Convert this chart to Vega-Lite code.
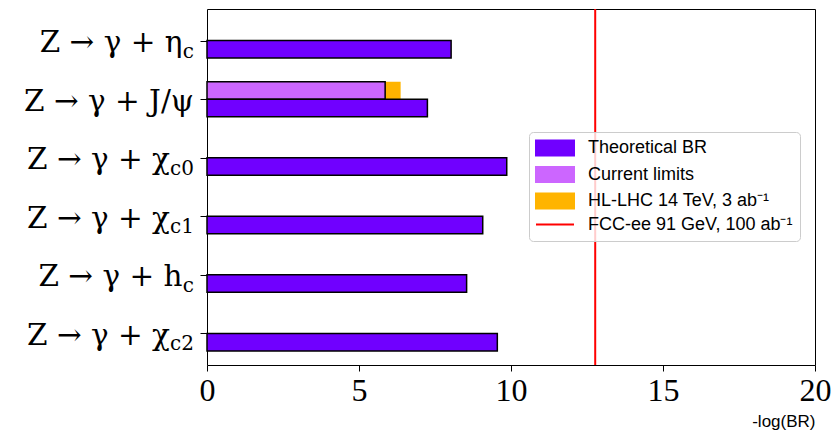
{
  "$schema": "https://vega.github.io/schema/vega-lite/v6.json",
  "width": 608,
  "height": 356,
  "autosize": {"type": "none"},
  "padding": {"left": 207, "top": 9, "right": 19, "bottom": 68},
  "background": "white",
  "config": {
    "view": {"stroke": "black", "strokeWidth": 1},
    "axis": {"grid": false, "domain": false, "tickColor": "black", "tickWidth": 1}
  },
  "datasets": {
    "bars": [
      {"channel": "eta_c", "series": "Theoretical BR", "value": 8.03},
      {"channel": "jpsi", "series": "Theoretical BR", "value": 7.25},
      {"channel": "chi_c0", "series": "Theoretical BR", "value": 9.86},
      {"channel": "chi_c1", "series": "Theoretical BR", "value": 9.07},
      {"channel": "h_c", "series": "Theoretical BR", "value": 8.54},
      {"channel": "chi_c2", "series": "Theoretical BR", "value": 9.55},
      {"channel": "jpsi", "series": "Current limits", "value": 5.86},
      {"channel": "jpsi", "series": "HL-LHC 14 TeV, 3 ab⁻¹", "value": 6.37},
      {"channel": "eta_c", "series": "FCC-ee 91 GeV, 100 ab⁻¹", "value": 12.77}
    ],
    "labels": [
      {"channel": "eta_c", "main": "Z → γ + η", "sub": "c"},
      {"channel": "jpsi", "main": "Z → γ + J/ψ", "sub": ""},
      {"channel": "chi_c0", "main": "Z → γ + χ", "sub": "c0"},
      {"channel": "chi_c1", "main": "Z → γ + χ", "sub": "c1"},
      {"channel": "h_c", "main": "Z → γ + h", "sub": "c"},
      {"channel": "chi_c2", "main": "Z → γ + χ", "sub": "c2"}
    ]
  },
  "data": {"name": "bars"},
  "encoding": {
    "y": {
      "field": "channel", "type": "nominal",
      "scale": {"type": "point", "domain": ["eta_c", "jpsi", "chi_c0", "chi_c1", "h_c", "chi_c2"], "padding": 0.54},
      "axis": {"labels": false, "title": null, "tickSize": 7}
    }
  },
  "layer": [
    {
      "transform": [{"filter": "datum.series === 'HL-LHC 14 TeV, 3 ab⁻¹'"}],
      "mark": {"type": "bar", "height": 17.5, "yOffset": -8.75, "opacity": 1},
      "encoding": {
        "x": {
          "field": "value", "type": "quantitative", "stack": null,
          "scale": {"domain": [0, 20], "nice": false, "zero": true},
          "axis": {
            "values": [0, 5, 10, 15, 20], "tickSize": 6, "labelFlush": false, "labelOverlap": false,
            "labelFont": "Liberation Serif", "labelFontSize": 32, "labelColor": "black", "labelPadding": 4,
            "title": "-log(BR)", "titleFont": "Liberation Sans", "titleFontSize": 17, "titleFontWeight": "normal",
            "titleColor": "black", "titleX": 608, "titleY": 61, "titleAlign": "right", "titleBaseline": "alphabetic"
          }
        },
        "color": {
          "field": "series", "type": "nominal",
          "scale": {
            "domain": ["Theoretical BR", "Current limits", "HL-LHC 14 TeV, 3 ab⁻¹", "FCC-ee 91 GeV, 100 ab⁻¹"],
            "range": ["#7000ff", "#cc66ff", "#ffb400", "#ff0000"]
          },
          "legend": {
            "title": null, "orient": "none", "legendX": 322, "legendY": 123,
            "padding": 7, "fillColor": "rgba(255,255,255,0.8)", "strokeColor": "#cccccc", "cornerRadius": 4,
            "symbolType": "M-2.533,-1H2.533V1H-2.533Z", "symbolSize": 225, "symbolOpacity": 1,
            "labelFont": "Liberation Sans", "labelFontSize": 18, "labelColor": "black", "labelOffset": 14,
            "rowPadding": 2.5, "labelLimit": 400,
            "encode": {
              "symbols": {
                "update": {
                  "x": {"value": 19},
                  "shape": {"signal": "datum.value === 'FCC-ee 91 GeV, 100 ab⁻¹' ? 'M-2.533,0H2.533' : 'M-2.533,-1H2.533V1H-2.533Z'"},
                  "stroke": {"signal": "datum.value === 'FCC-ee 91 GeV, 100 ab⁻¹' ? '#ff0000' : 'transparent'"},
                  "strokeWidth": {"value": 2}
                }
              },
              "labels": {
                "update": {"x": {"value": 52}}
              }
            }
          }
        }
      }
    },
    {
      "transform": [{"filter": "datum.series === 'Current limits'"}],
      "mark": {"type": "bar", "height": 17.5, "yOffset": -8.75, "stroke": "black", "strokeWidth": 1.5, "opacity": 1},
      "encoding": {
        "x": {"field": "value", "type": "quantitative", "stack": null},
        "color": {"field": "series", "type": "nominal"}
      }
    },
    {
      "transform": [{"filter": "datum.series === 'Theoretical BR'"}],
      "mark": {"type": "bar", "height": 17.5, "yOffset": 8.75, "stroke": "black", "strokeWidth": 1.5, "opacity": 1},
      "encoding": {
        "x": {"field": "value", "type": "quantitative", "stack": null},
        "color": {"field": "series", "type": "nominal"}
      }
    },
    {
      "transform": [{"filter": "datum.series === 'FCC-ee 91 GeV, 100 ab⁻¹'"}],
      "mark": {"type": "rule", "strokeWidth": 2},
      "encoding": {
        "x": {"field": "value", "type": "quantitative"},
        "y": null,
        "color": {"field": "series", "type": "nominal"}
      }
    },
    {
      "data": {"name": "labels"},
      "transform": [{"filter": "datum.sub === 'c'"}],
      "mark": {"type": "text", "align": "right", "baseline": "alphabetic", "dx": -24.5, "dy": 11.5, "font": "DejaVu Serif", "fontSize": 29.5, "color": "black"},
      "encoding": {"x": {"datum": 0, "type": "quantitative"}, "text": {"field": "main"}}
    },
    {
      "data": {"name": "labels"},
      "transform": [{"filter": "length(datum.sub) === 2"}],
      "mark": {"type": "text", "align": "right", "baseline": "alphabetic", "dx": -37, "dy": 11.5, "font": "DejaVu Serif", "fontSize": 29.5, "color": "black"},
      "encoding": {"x": {"datum": 0, "type": "quantitative"}, "text": {"field": "main"}}
    },
    {
      "data": {"name": "labels"},
      "transform": [{"filter": "datum.sub === ''"}],
      "mark": {"type": "text", "align": "right", "baseline": "alphabetic", "dx": -13, "dy": 11.5, "font": "DejaVu Serif", "fontSize": 29.5, "color": "black"},
      "encoding": {"x": {"datum": 0, "type": "quantitative"}, "text": {"field": "main"}}
    },
    {
      "data": {"name": "labels"},
      "transform": [{"filter": "datum.sub !== ''"}],
      "mark": {"type": "text", "align": "right", "baseline": "alphabetic", "dx": -13, "dy": 17, "font": "DejaVu Serif", "fontSize": 20, "color": "black"},
      "encoding": {"x": {"datum": 0, "type": "quantitative"}, "text": {"field": "sub"}}
    }
  ]
}
